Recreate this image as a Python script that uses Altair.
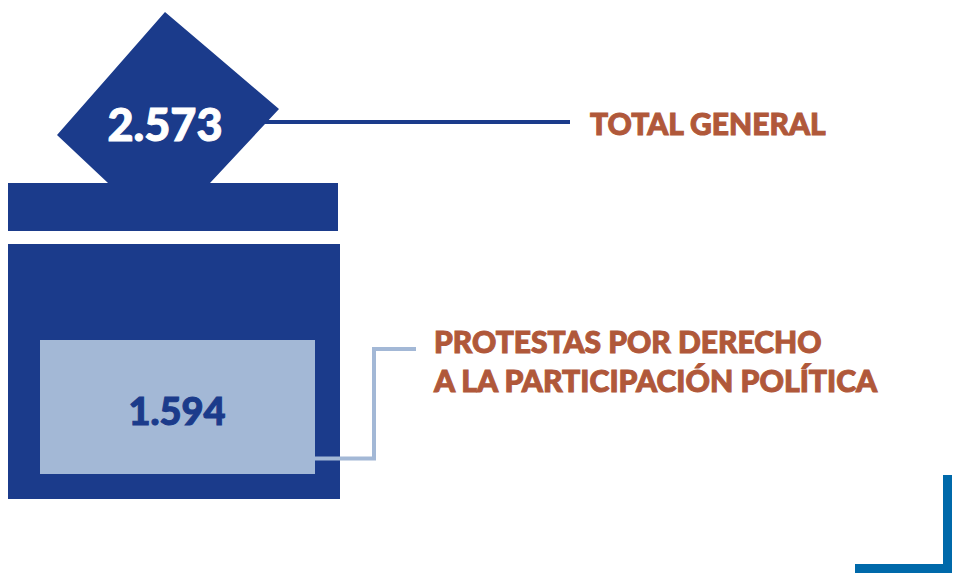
import altair as alt
import pandas as pd

DARK = "#1b3b8b"
LIGHT = "#a3b8d6"
TEXT = "#b0583a"
CORNER = "#0069aa"
FONT = "Lato"

# rectangles
rect_x = [8, 8, 40, 943, 855]
rect_x2 = [338, 340, 315, 952, 952]
rect_y = [183, 244, 340, 475, 564]
rect_y2 = [231, 499, 474, 573, 573]
rect_c = [DARK, DARK, LIGHT, CORNER, CORNER]

# ballot diamond outline
dia_x = [57, 108, 165, 210, 279]
dia_top = [135, 77, 12, 50.3, 109]
dia_bot = [135, 183, 183, 183, 109]

# leader lines
lead_id = ["a", "a", "b", "b", "b", "b"]
lead_ord = [0, 1, 0, 1, 2, 3]
lead_x = [262, 570, 315, 374, 374, 416]
lead_y = [122, 122, 458.5, 458.5, 349, 349]
lead_c = [DARK, DARK, LIGHT, LIGHT, LIGHT, LIGHT]

# texts
txt = ["2.573", "1.594", "TOTAL GENERAL", "PROTESTAS POR DERECHO", "A LA PARTICIPACIÓN POLÍTICA"]
txt_x = [165, 177, 590, 434, 434]
txt_y = [141, 425, 135, 353, 392]
txt_size = [45, 38, 30, 30, 30.2]
txt_col = ["#ffffff", DARK, TEXT, TEXT, TEXT]

X = alt.Scale(domain=[8, 952], range=[0, 944], zero=False, nice=False)
Y = alt.Scale(domain=[8, 573], range=[0, 565], zero=False, nice=False)

rects = pd.DataFrame(dict(x=rect_x, x2=rect_x2, y=rect_y, y2=rect_y2, c=rect_c))
dia = pd.DataFrame(dict(x=dia_x, y=dia_top, y2=dia_bot))
lead = pd.DataFrame(dict(i=lead_id, o=lead_ord, x=lead_x, y=lead_y, c=lead_c))
labels = pd.DataFrame(dict(t=txt, x=txt_x, y=txt_y, s=txt_size, c=txt_col))

rect_layer = alt.Chart(rects).mark_rect().encode(
    x=alt.X("x:Q", scale=X, axis=None), x2="x2:Q",
    y=alt.Y("y:Q", scale=Y, axis=None), y2="y2:Q",
    color=alt.Color("c:N", scale=None),
)
dia_layer = alt.Chart(dia).mark_area(color=DARK, interpolate="linear").encode(
    x=alt.X("x:Q", scale=X, axis=None),
    y=alt.Y("y:Q", scale=Y, axis=None), y2="y2:Q",
)
lead_layer = alt.Chart(lead).mark_line(strokeWidth=4, strokeJoin="miter", strokeCap="butt").encode(
    x=alt.X("x:Q", scale=X, axis=None),
    y=alt.Y("y:Q", scale=Y, axis=None),
    detail="i:N", order="o:Q",
    color=alt.Color("c:N", scale=None),
)

def text_layer(df, align):
    return alt.Chart(df).mark_text(
        font=FONT, fontWeight=900, align=align, baseline="alphabetic", strokeWidth=1.0
    ).encode(
        x=alt.X("x:Q", scale=X, axis=None),
        y=alt.Y("y:Q", scale=Y, axis=None),
        text="t:N",
        size=alt.Size("s:Q", scale=None),
        color=alt.Color("c:N", scale=None),
        stroke=alt.Stroke("c:N", scale=None),
    )

chart = alt.layer(
    rect_layer, dia_layer, lead_layer,
    text_layer(labels[:2], "center"), text_layer(labels[2:], "left"),
).properties(
    width=944, height=565, padding=0, background="#ffffff",
).configure_view(stroke=None)

chart.save("out.html", embed_options={"renderer": "svg", "actions": False})
